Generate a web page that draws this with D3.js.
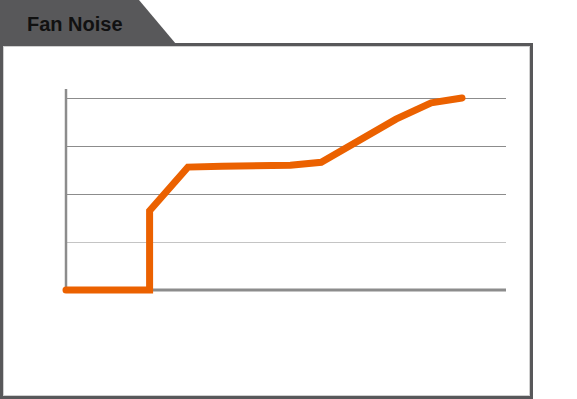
<!DOCTYPE html>
<html>
<head>
<meta charset="utf-8">
<script src="https://cdn.jsdelivr.net/npm/d3@7"></script>
<style>
  html, body { margin: 0; padding: 0; background: #fff; }
  svg { display: block; }
</style>
</head>
<body>
<svg id="chart" width="577" height="399"></svg>
<script>
// chart data (x: position along the axis 0..100, y: noise level in grid units)
const title = 'Fan Noise';
const xValues = [0, 19, 19, 27.7, 35.5, 51, 58, 75, 83, 90];
const noiseValues = [0, 0, 1.65, 2.56, 2.58, 2.6, 2.66, 3.56, 3.9, 4.0];
const yTicks = [0, 1, 2, 3, 4];

const svg = d3.select('#chart');
const frameColor = '#58585a';

// frame + tab
svg.append('rect')
  .attr('x', 1.5).attr('y', 44.5)
  .attr('width', 530).attr('height', 353)
  .attr('fill', '#fff')
  .attr('stroke', frameColor)
  .attr('stroke-width', 3);
svg.append('rect')
  .attr('x', 3.5).attr('y', 46.5)
  .attr('width', 526).attr('height', 349)
  .attr('fill', 'none')
  .attr('stroke', '#d0d0d0')
  .attr('stroke-width', 1);

svg.append('path')
  .attr('d', 'M0,0 L139,0 L176,44 L0,44 Z')
  .attr('fill', frameColor);

svg.append('text')
  .attr('x', 27).attr('y', 31)
  .attr('font-family', 'Liberation Sans, Arial, sans-serif')
  .attr('font-weight', 'bold')
  .attr('font-size', 20)
  .attr('fill', '#111')
  .text(title);

// scales
const x = d3.scaleLinear().domain([0, 100]).range([66, 506]);
const y = d3.scaleLinear().domain([0, 4]).range([290, 98]);

// gridlines
svg.append('g')
  .selectAll('line')
  .data(yTicks.filter(d => d > 0))
  .enter().append('line')
  .attr('x1', x(0)).attr('x2', x(100))
  .attr('y1', d => Math.round(y(d)) + 0.5)
  .attr('y2', d => Math.round(y(d)) + 0.5)
  .attr('stroke', d => d === 1 ? '#c4c4c4' : '#8c8c8c')
  .attr('stroke-width', 1);

// axes
svg.append('line')
  .attr('x1', x(0)).attr('x2', x(0))
  .attr('y1', 89).attr('y2', y(0) + 1)
  .attr('stroke', '#8c8c8c')
  .attr('stroke-width', 2.5);
svg.append('line')
  .attr('x1', x(0)).attr('x2', x(100))
  .attr('y1', y(0)).attr('y2', y(0))
  .attr('stroke', '#8c8c8c')
  .attr('stroke-width', 3);

// noise line
const line = d3.line()
  .x((d, i) => x(xValues[i]))
  .y(d => y(d));

svg.append('path')
  .datum(noiseValues)
  .attr('d', line)
  .attr('fill', 'none')
  .attr('stroke', '#eb6100')
  .attr('stroke-width', 7)
  .attr('stroke-linecap', 'round')
  .attr('stroke-linejoin', 'miter');
</script>
</body>
</html>
